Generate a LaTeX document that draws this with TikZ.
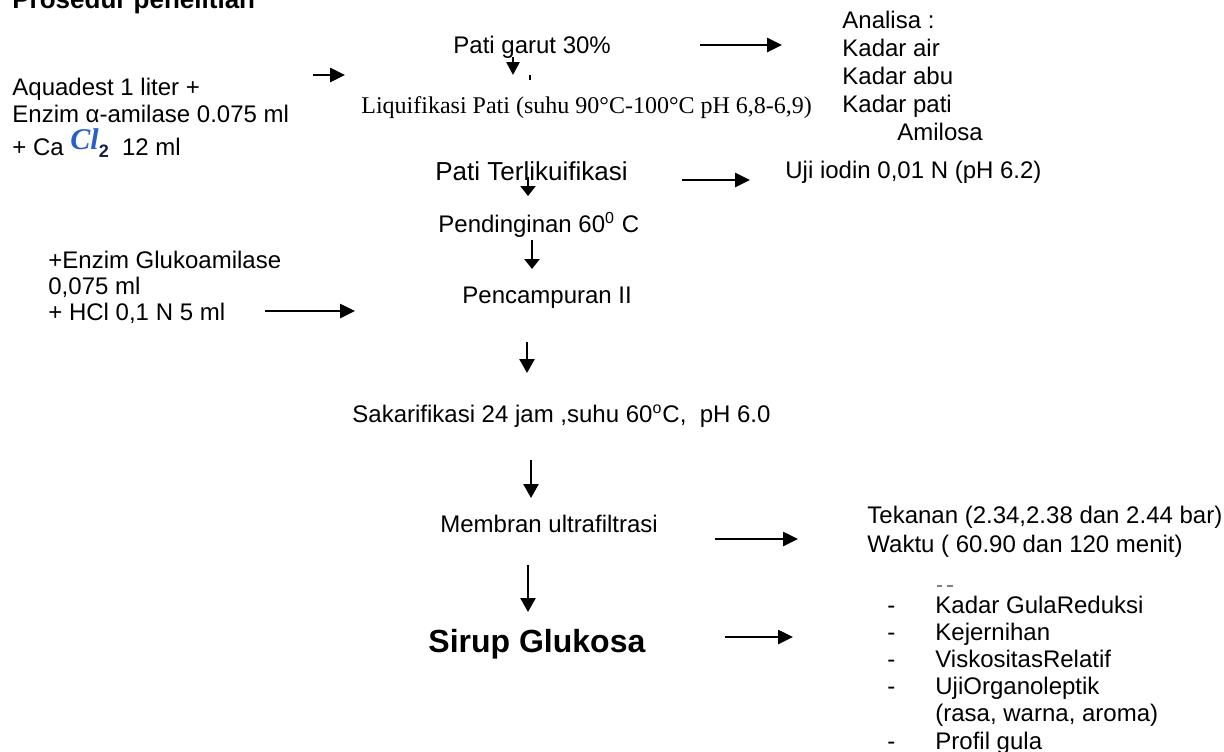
\documentclass[tikz,border=0pt]{standalone}
\usepackage{fontspec}
\setmainfont{Liberation Sans}
\newfontfamily\timesf{Liberation Serif}
\usetikzlibrary{arrows.meta}
\definecolor{clblue}{RGB}{40,95,200}
\definecolor{clnavy}{RGB}{20,30,70}
\begin{document}
\begin{tikzpicture}[x=0.5pt,y=-0.5pt,
  txt/.style={inner sep=0pt, anchor=base west, font=\fontsize{12}{14}\selectfont},
  serif/.style={txt, font=\timesf\fontsize{12}{14}\selectfont},
  big/.style={txt, font=\fontsize{13}{15}\selectfont},
  hdr/.style={txt, font=\bfseries\fontsize{13}{15}\selectfont},
  res/.style={txt, font=\bfseries\fontsize{16}{18}\selectfont},
  arr/.style={line width=1.3pt, -{Triangle[length=7.5pt,width=7pt]}},
  darr/.style={line width=1.3pt, -{Triangle[length=7pt,width=7.5pt]}},
  flat/.style={line width=1.4pt, -{Triangle[length=5pt,width=7.5pt]}},
  tick/.style={line width=1pt},
  speck/.style={line width=0.6pt, gray}]
\useasboundingbox (0,0) rectangle (1224,751);
\fill[white] (0,0) rectangle (1224,751);

% title
\node[hdr] (title) at (12,8) {Prosedur penelitian};

% left input 1
\node[txt] (aq1) at (12,95) {Aquadest 1 liter +};
\node[txt] (aq2) at (12,122) {Enzim α-amilase 0.075 ml};
\node[txt] (aq3) at (12,155) {+ Ca {\timesf\itshape\bfseries\color{clblue}\fontsize{15}{16}\selectfont\raisebox{3pt}{Cl}}{\color{clnavy}\bfseries\fontsize{9}{10}\selectfont\raisebox{-1pt}{2}}\ \ 12 ml};
\coordinate (a1s) at (313,75);
\coordinate (a1e) at (345,75);
\draw[arr] (a1s) -- (a1e);

% main column
\node[txt] (pg) at (453,53) {Pati garut 30\%};
\coordinate (pgd1) at (513,57);
\coordinate (pgd2) at (513,75);
\draw[line width=1.3pt, -{Triangle[length=6.5pt,width=6.5pt]}] (pgd1) -- (pgd2);
\coordinate (tk1) at (530,75);
\coordinate (tk2) at (530,80);
\draw[tick] (tk1) -- (tk2);
\coordinate (pga1) at (700,45);
\coordinate (pga2) at (782,45);
\draw[arr] (pga1) -- (pga2);

\node[serif] (liq) at (361,113) {Liquifikasi Pati (suhu 90°C-100°C pH 6,8-6,9)};

% analisa
\node[txt] (an0) at (842,28) {Analisa :};
\node[txt] (an1) at (842,56) {Kadar air};
\node[txt] (an2) at (842,84) {Kadar abu};
\node[txt] (an3) at (842,112) {Kadar pati};
\node[txt] (an4) at (897,140) {Amilosa};

\node[big] (pt) at (435,180) {Pati Terlikuifikasi};
\coordinate (pta1) at (682,180);
\coordinate (pta2) at (750,180);
\draw[arr] (pta1) -- (pta2);
\node[txt] (uji) at (785,178) {Uji iodin 0,01 N (pH 6.2)};
\coordinate (ptd1) at (528,177);
\coordinate (ptd2) at (528,196);
\draw[flat] (ptd1) -- (ptd2);

\node[txt] (pend) at (438,232) {Pendinginan 60\textsuperscript{0} C};
\coordinate (pdd1) at (532,240);
\coordinate (pdd2) at (532,269);
\draw[flat] (pdd1) -- (pdd2);

\node[txt] (penc) at (462,303) {Pencampuran II};

% left input 2
\node[txt] (enz1) at (48,268) {+Enzim Glukoamilase};
\node[txt] (enz2) at (48,294) {0,075 ml};
\node[txt] (enz3) at (48,320) {+ HCl 0,1 N 5 ml};
\coordinate (ea1) at (265,311);
\coordinate (ea2) at (355,311);
\draw[arr] (ea1) -- (ea2);

\coordinate (pcd1) at (527,342);
\coordinate (pcd2) at (527,373);
\draw[darr] (pcd1) -- (pcd2);

\node[txt] (sak) at (352,422) {Sakarifikasi 24 jam ,suhu 60\textsuperscript{o}C,\ \ pH 6.0};
\coordinate (skd1) at (531,460);
\coordinate (skd2) at (531,498);
\draw[darr] (skd1) -- (skd2);

\node[txt] (mem) at (440,532) {Membran ultrafiltrasi};
\coordinate (ma1) at (715,539);
\coordinate (ma2) at (798,539);
\draw[arr] (ma1) -- (ma2);
\node[txt] (tek) at (867,523) {Tekanan (2.34,2.38 dan 2.44 bar)};
\node[txt] (wak) at (867,552) {Waktu ( 60.90 dan 120 menit)};

\coordinate (md1) at (528,565);
\coordinate (md2) at (528,612);
\draw[darr] (md1) -- (md2);

\node[res] (sirup) at (428,652) {Sirup Glukosa};
\coordinate (sa1) at (725,637);
\coordinate (sa2) at (793,637);
\draw[arr] (sa1) -- (sa2);

% specks
\coordinate (sp1) at (937,586);
\coordinate (sp2) at (942,586);
\coordinate (sp3) at (947,586);
\coordinate (sp4) at (953,586);
\draw[speck] (sp1) -- (sp2);
\draw[speck] (sp3) -- (sp4);

% result list
\node[txt] (d1) at (887,613) {-};
\node[txt] (l1) at (935,613) {Kadar GulaReduksi};
\node[txt] (d2) at (887,640) {-};
\node[txt] (l2) at (935,640) {Kejernihan};
\node[txt] (d3) at (887,667) {-};
\node[txt] (l3) at (935,667) {ViskositasRelatif};
\node[txt] (d4) at (887,694) {-};
\node[txt] (l4) at (935,694) {UjiOrganoleptik};
\node[txt] (l5) at (935,721) {(rasa, warna, aroma)};
\node[txt] (d6) at (887,749) {-};
\node[txt] (l6) at (935,749) {Profil gula};
\end{tikzpicture}
\end{document}
